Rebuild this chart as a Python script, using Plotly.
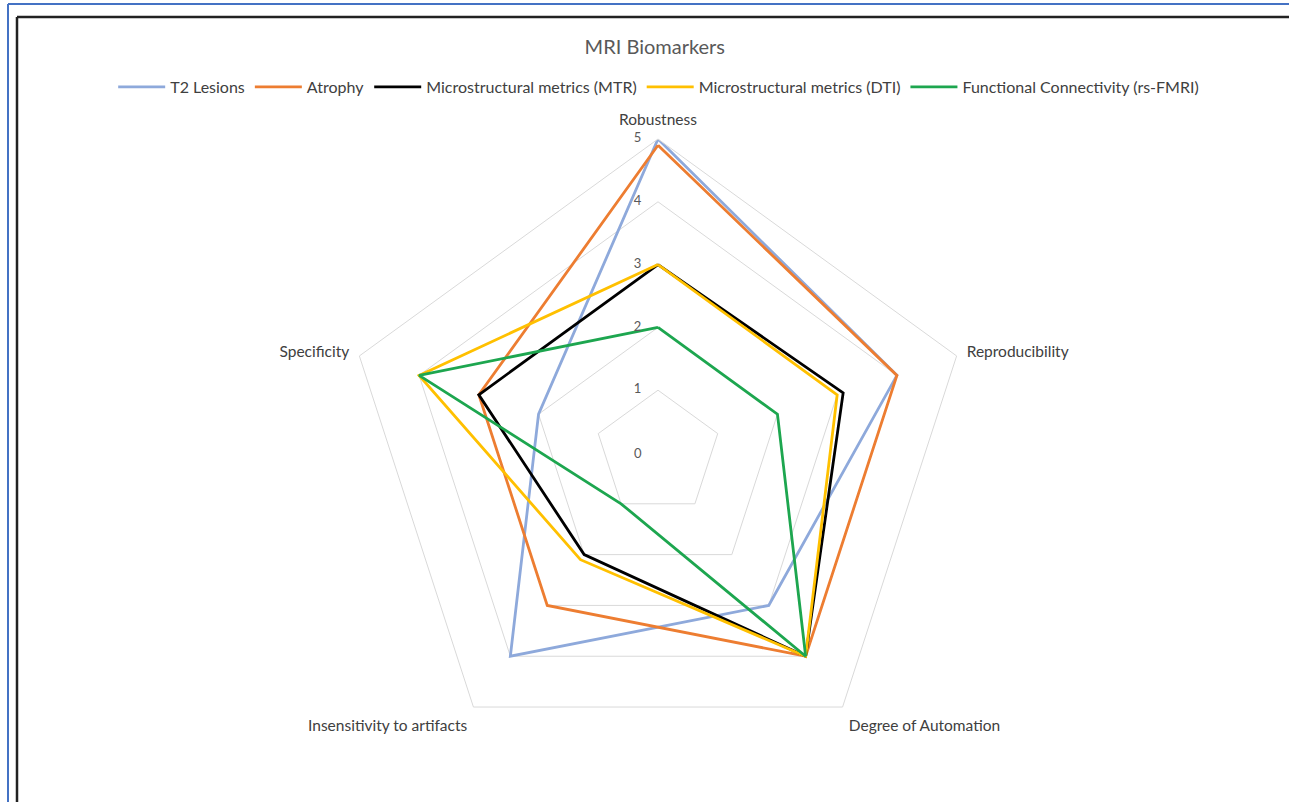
import plotly.graph_objects as go

# Radar categories (clockwise from the top)
categories = ["Robustness", "Reproducibility", "Degree of Automation",
              "Insensitivity to artifacts", "Specificity"]

# Scores per biomarker, in category order
t2_lesions = [5, 4, 3, 4, 2]
atrophy = [4.9, 4, 4, 3, 3]
mtr = [3, 3.1, 4, 2, 3]
dti = [3, 3, 4, 2.1, 4]
fc_rsfmri = [2, 2, 4, 1, 4]

series_names = ["T2 Lesions", "Atrophy", "Microstructural metrics (MTR)",
                "Microstructural metrics (DTI)", "Functional Connectivity (rs-FMRI)"]
series_values = [t2_lesions, atrophy, mtr, dti, fc_rsfmri]
series_colors = ["#8EA9DB", "#ED7D31", "#000000", "#FFC000", "#1DA64F"]

# value axis ticks, written along the Robustness spoke
scale_ticks = [0, 1, 2, 3, 4, 5]

W, H = 1289, 802
FONT = "Lato, Open Sans, sans-serif"
TXT = "#595959"

fig = go.Figure()
for name, vals, col in zip(series_names, series_values, series_colors):
    fig.add_trace(go.Scatterpolar(
        r=vals + vals[:1],
        theta=categories + categories[:1],
        mode="lines",
        name=name,
        line=dict(color=col, width=2.8),
    ))

# tick labels 1..5 sit beside the top spoke
fig.add_trace(go.Scatterpolar(
    r=scale_ticks[1:],
    theta=[categories[0]] * (len(scale_ticks) - 1),
    mode="text",
    text=[f"{v}     " for v in scale_ticks[1:]],
    textposition="middle left",
    textfont=dict(size=13, color=TXT, family=FONT),
    cliponaxis=False,
    showlegend=False,
    hoverinfo="skip",
))

# polar centre at (658, 453) px, radius 314 px for value 5
cx, cy, R = 658, 453, 314
fig.update_layout(
    width=W, height=H,
    margin=dict(l=0, r=0, t=0, b=0),
    paper_bgcolor="white",
    font=dict(family=FONT, color=TXT, size=13),
    title=dict(text="MRI Biomarkers", x=0.508, xanchor="center",
               y=1 - 47 / H, yanchor="middle",
               font=dict(size=20, color=TXT, family=FONT)),
    legend=dict(orientation="h", x=0.511, xanchor="center",
                y=1 - 87 / H, yanchor="middle",
                font=dict(size=16, color="#404040"), itemwidth=47,
                tracegroupgap=0, bgcolor="rgba(0,0,0,0)"),
    polar=dict(
        domain=dict(x=[(cx - R) / W, (cx + R) / W],
                    y=[1 - (cy + R) / H, 1 - (cy - R) / H]),
        bgcolor="white",
        gridshape="linear",
        radialaxis=dict(range=[0, 5], tickvals=scale_ticks,
                        angle=90, showline=False, showticklabels=False,
                        gridcolor="#D9D9D9", gridwidth=1, ticks=""),
        angularaxis=dict(rotation=90, direction="clockwise",
                         showgrid=False, linecolor="#D9D9D9", linewidth=1,
                         ticks="outside", ticklen=7,
                         tickcolor="rgba(0,0,0,0)",
                         tickfont=dict(size=15.5, color="#404040")),
    ),
    # the zero label at the centre of the web
    annotations=[dict(text=str(scale_ticks[0]), xref="paper", yref="paper",
                      x=(cx - 20) / W, y=1 - cy / H, showarrow=False,
                      xanchor="center", yanchor="middle",
                      font=dict(size=13, color=TXT, family=FONT))],
    shapes=[
        # outer blue frame
        dict(type="line", xref="paper", yref="paper", x0=8 / W, x1=1.01,
             y0=1 - 4 / H, y1=1 - 4 / H, line=dict(color="#4472C4", width=2)),
        dict(type="line", xref="paper", yref="paper", x0=8 / W, x1=8 / W,
             y0=1 - 4 / H, y1=-0.01, line=dict(color="#4472C4", width=2)),
        # inner dark frame
        dict(type="line", xref="paper", yref="paper", x0=17 / W, x1=1.01,
             y0=1 - 17 / H, y1=1 - 17 / H, line=dict(color="#222222", width=2.5)),
        dict(type="line", xref="paper", yref="paper", x0=17 / W, x1=17 / W,
             y0=1 - 17 / H, y1=-0.01, line=dict(color="#222222", width=2.5)),
    ],
)

fig.write_html("out.html")
